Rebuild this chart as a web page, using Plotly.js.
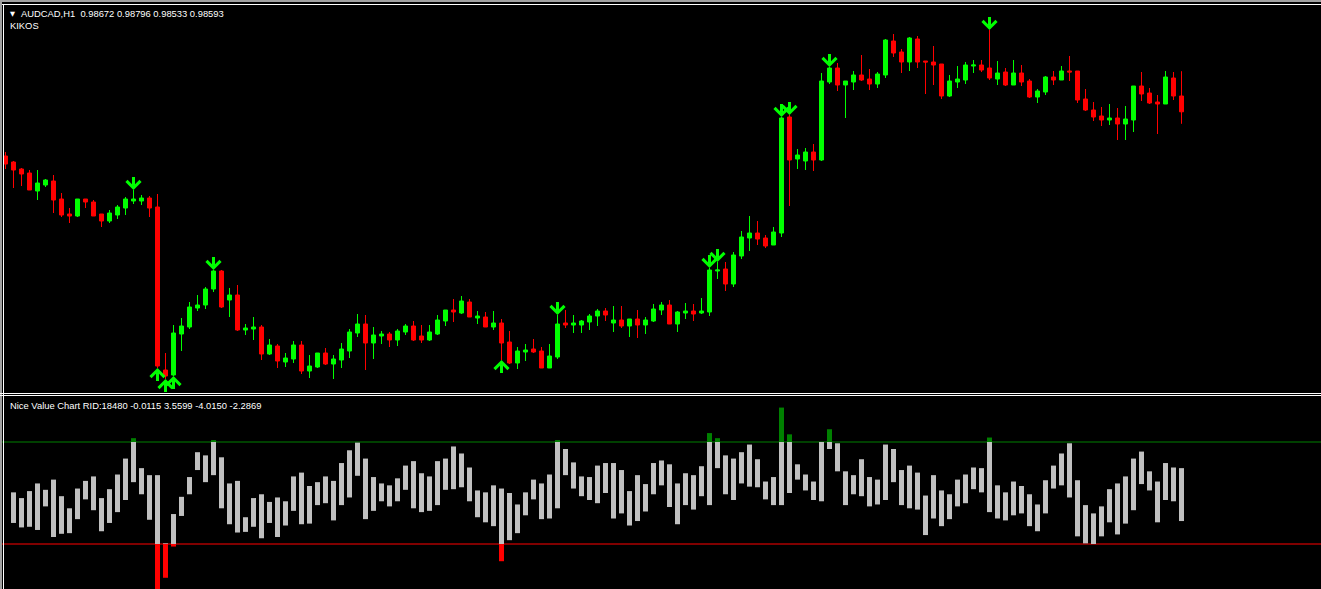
<!DOCTYPE html>
<html><head><meta charset="utf-8">
<script src="https://cdn.plot.ly/plotly-3.0.1.min.js"></script>
<style>html,body{margin:0;padding:0;background:#000;overflow:hidden;} #chart{width:1321px;height:589px;}</style>
</head><body><div id="chart"></div>
<script>
// ---------- data ----------
const symbolLabel = 'AUDCAD,H1';
const headerValues = ['0.98672', '0.98796', '0.98533', '0.98593'];
const templateLabel = 'KIKOS';
const indicatorLabel = 'Nice Value Chart RID:18480 -0.0115 3.5599 -4.0150 -2.2869';

const opens = [0.98372,0.98342,0.98307,0.98287,0.98197,0.98227,0.98247,0.98157,0.98082,0.98072,
0.98157,0.98142,0.98082,0.98047,0.98077,0.98112,0.98147,0.98147,0.98162,0.98117,
0.97302,0.97277,0.97482,0.97517,0.97612,0.97627,0.97707,0.97797,0.97652,0.97677,
0.97502,0.97507,0.97517,0.97382,0.97422,0.97342,0.97357,0.97427,0.97297,0.97317,
0.97387,0.97332,0.97352,0.97397,0.97487,0.97532,0.97437,0.97472,0.97482,0.97452,
0.97492,0.97522,0.97472,0.97452,0.97482,0.97547,0.97602,0.97587,0.97642,0.97562,
0.97567,0.97517,0.97537,0.97442,0.97337,0.97392,0.97407,0.97397,0.97312,0.97367,
0.97537,0.97527,0.97527,0.97542,0.97572,0.97597,0.97537,0.97552,0.97522,0.97557,
0.97527,0.97547,0.97602,0.97627,0.97532,0.97587,0.97597,0.97587,0.97592,0.97797,
0.97807,0.97732,0.97872,0.97962,0.97987,0.97962,0.97927,0.97987,0.98567,0.98357,
0.98347,0.98392,0.98352,0.98742,0.98812,0.98727,0.98742,0.98777,0.98757,0.98732,
0.98777,0.98947,0.98892,0.98842,0.98957,0.98847,0.98842,0.98832,0.98672,0.98742,
0.98752,0.98822,0.98827,0.98812,0.98757,0.98792,0.98727,0.98787,0.98747,0.98667,
0.98692,0.98767,0.98752,0.98797,0.98797,0.98657,0.98602,0.98572,0.98552,0.98562,
0.98532,0.98552,0.98722,0.98687,0.98642,0.98632,0.98762,0.98672];

const highs = [0.98392,0.98347,0.98312,0.98302,0.98302,0.98257,0.98277,0.98187,0.98112,0.98157,
0.98157,0.98152,0.98082,0.98102,0.98127,0.98167,0.98202,0.98177,0.98172,0.98182,
0.97387,0.97527,0.97562,0.97642,0.97677,0.97717,0.97802,0.97802,0.97712,0.97727,
0.97532,0.97567,0.97527,0.97457,0.97432,0.97387,0.97447,0.97447,0.97377,0.97387,
0.97412,0.97377,0.97437,0.97507,0.97582,0.97577,0.97517,0.97497,0.97492,0.97507,
0.97532,0.97547,0.97527,0.97527,0.97577,0.97602,0.97657,0.97672,0.97657,0.97597,
0.97592,0.97597,0.97557,0.97497,0.97417,0.97432,0.97457,0.97417,0.97432,0.97577,
0.97602,0.97577,0.97552,0.97582,0.97607,0.97612,0.97622,0.97622,0.97557,0.97602,
0.97567,0.97632,0.97642,0.97652,0.97597,0.97637,0.97632,0.97662,0.97812,0.97842,
0.97842,0.97892,0.97997,0.98072,0.98047,0.97977,0.98017,0.98567,0.98577,0.98407,
0.98412,0.98432,0.98787,0.98817,0.98837,0.98747,0.98797,0.98877,0.98807,0.98792,
0.98957,0.98982,0.98907,0.98967,0.98972,0.98847,0.98922,0.98832,0.98777,0.98822,
0.98842,0.98852,0.98852,0.99002,0.98847,0.98812,0.98852,0.98827,0.98757,0.98707,
0.98772,0.98797,0.98822,0.98872,0.98797,0.98707,0.98642,0.98617,0.98632,0.98612,
0.98622,0.98722,0.98792,0.98712,0.98677,0.98797,0.98792,0.98796];

const lows = [0.98307,0.98212,0.98222,0.98202,0.98152,0.98217,0.98087,0.98067,0.98037,0.98067,
0.98112,0.98072,0.98017,0.98037,0.98057,0.98077,0.98132,0.98127,0.98067,0.97312,
0.97257,0.97272,0.97397,0.97507,0.97597,0.97607,0.97692,0.97612,0.97567,0.97497,
0.97477,0.97452,0.97352,0.97377,0.97312,0.97317,0.97337,0.97282,0.97262,0.97312,
0.97327,0.97257,0.97312,0.97362,0.97467,0.97302,0.97357,0.97432,0.97417,0.97422,
0.97477,0.97447,0.97437,0.97447,0.97477,0.97522,0.97542,0.97582,0.97567,0.97532,
0.97517,0.97502,0.97352,0.97332,0.97307,0.97347,0.97387,0.97312,0.97312,0.97357,
0.97512,0.97487,0.97487,0.97502,0.97522,0.97547,0.97492,0.97512,0.97467,0.97462,
0.97482,0.97542,0.97577,0.97532,0.97492,0.97557,0.97547,0.97582,0.97572,0.97757,
0.97697,0.97717,0.97857,0.97897,0.97927,0.97912,0.97927,0.97967,0.98122,0.98307,
0.98302,0.98297,0.98347,0.98732,0.98697,0.98562,0.98702,0.98747,0.98702,0.98712,
0.98762,0.98867,0.98787,0.98797,0.98812,0.98682,0.98727,0.98657,0.98667,0.98712,
0.98732,0.98787,0.98792,0.98752,0.98727,0.98722,0.98727,0.98722,0.98662,0.98637,
0.98677,0.98727,0.98752,0.98747,0.98637,0.98597,0.98547,0.98522,0.98527,0.98452,
0.98452,0.98492,0.98647,0.98632,0.98482,0.98632,0.98652,0.98533];

const closes = [0.98332,0.98302,0.98282,0.98202,0.98237,0.98252,0.98152,0.98077,0.98072,0.98157,
0.98142,0.98072,0.98047,0.98087,0.98117,0.98157,0.98157,0.98162,0.98112,0.97322,
0.97272,0.97487,0.97522,0.97617,0.97627,0.97707,0.97797,0.97617,0.97677,0.97502,
0.97512,0.97517,0.97382,0.97427,0.97347,0.97362,0.97427,0.97297,0.97322,0.97387,
0.97332,0.97357,0.97407,0.97492,0.97532,0.97437,0.97477,0.97482,0.97452,0.97497,
0.97522,0.97452,0.97452,0.97492,0.97552,0.97602,0.97592,0.97647,0.97567,0.97572,
0.97517,0.97537,0.97437,0.97337,0.97397,0.97402,0.97392,0.97312,0.97372,0.97532,
0.97527,0.97537,0.97547,0.97572,0.97597,0.97577,0.97552,0.97522,0.97557,0.97527,
0.97552,0.97607,0.97627,0.97532,0.97592,0.97597,0.97582,0.97597,0.97802,0.97802,
0.97732,0.97877,0.97967,0.97987,0.97957,0.97922,0.97992,0.98562,0.98352,0.98377,
0.98392,0.98352,0.98747,0.98812,0.98727,0.98747,0.98777,0.98752,0.98732,0.98782,
0.98952,0.98887,0.98842,0.98962,0.98842,0.98842,0.98827,0.98672,0.98747,0.98757,
0.98827,0.98827,0.98802,0.98762,0.98787,0.98727,0.98787,0.98742,0.98667,0.98697,
0.98767,0.98752,0.98797,0.98792,0.98652,0.98602,0.98567,0.98552,0.98562,0.98532,
0.98557,0.98722,0.98682,0.98637,0.98632,0.98767,0.98672,0.98593];

// bar indexes carrying KIKOS signal arrows
const sellSignals = [16, 26, 69, 88, 89, 97, 98, 103, 123];
const buySignals = [19, 20, 21, 62];

// Value chart: top and bottom of each bar (bar 0 not drawn)
const vcHigh = [null,0.1,-0.8,0.3,1.5,0.5,2.1,-0.5,-2.4,0.7,1.9,
2.6,-0.8,0.6,2.9,5.4,8.6,3.9,2.8,2.8,-7.9,
-3.3,-0.6,2.5,6.4,5.9,8.3,5.6,1.5,1.9,-3.8,
-0.8,-0.2,-1.4,-0.7,-1.3,2.6,3.2,1.1,1.7,2.6,
1.9,4.7,6.7,7.9,5.4,2.5,1.5,1.2,2.3,4.3,
5.0,3.1,2.6,5.0,5.4,7.3,6.2,4.0,0.4,0.1,
1.2,0.7,0.0,-1.8,0.1,2.1,1.5,2.9,8.3,6.9,
4.8,2.6,2.5,4.3,4.7,4.7,3.6,0.3,2.8,1.4,
4.7,5.1,4.5,1.5,3.1,2.8,4.2,9.4,8.6,5.9,
5.4,6.4,7.6,5.3,1.8,2.5,13.4,9.2,4.5,2.9,
1.8,8.0,10.0,7.8,3.4,2.8,5.3,2.5,2.1,7.6,
6.9,3.6,4.3,3.2,-0.4,2.8,0.4,-0.2,2.1,2.9,
4.0,3.9,8.7,1.2,0.1,1.8,1.1,-0.2,-1.8,2.0,
4.3,6.2,7.8,2.0,-1.9,-3.2,-2.1,0.6,1.5,2.6,
5.4,6.5,3.4,1.8,4.7,4.0,3.9];

const vcLow = [null,-4.7,-5.4,-5.3,-5.8,-2.1,-6.9,-6.4,-6.3,-4.1,-1.0,
-2.7,-6.0,-4.7,-3.0,-1.1,1.7,-0.2,-4.2,-16.8,-13.3,
-8.4,-3.6,-0.2,3.6,1.7,2.8,-2.4,-4.9,-6.2,-6.1,
-5.3,-7.1,-4.7,-6.9,-5.1,-2.8,-4.9,-4.8,-1.9,-1.6,
-4.3,-1.9,-0.7,2.7,-4.1,-2.8,-1.3,-2.1,-1.3,0.5,
-2.4,-3.0,-2.8,-1.9,0.5,0.6,0.9,-1.3,-3.8,-4.6,
-5.2,-10.7,-7.4,-6.3,-3.5,-1.0,-4.1,-4.0,-2.4,2.8,
0.7,-0.5,-1.1,-1.6,0.0,-4.0,-3.2,-5.1,-4.4,-2.9,
-0.2,1.2,-2.2,-4.9,-1.9,-2.6,-0.5,-1.9,3.9,-0.2,
-1.1,1.5,1.0,0.9,-1.0,-1.9,-1.9,0.0,2.1,0.4,
-1.1,-1.3,6.9,3.4,-1.9,-0.2,-0.5,-2.1,-1.8,-1.1,
1.7,-1.9,-2.4,-2.6,-6.6,-4.0,-5.2,-4.1,-2.1,-1.6,
0.6,0.1,-3.0,-4.0,-4.3,-3.5,-3.2,-5.2,-6.0,-3.2,
0.7,1.2,-0.7,-6.8,-7.9,-8.0,-6.8,-4.6,-6.5,-4.8,
-2.7,1.4,0.4,-4.6,-1.1,-1.3,-4.4];

const upperLevel = 8;
const lowerLevel = -8;

// ---------- drawing ----------
const W = 1321, H = 589;
const py = p => 1 - p / H;             // pixel row -> paper y
const bars = opens.map((_, i) => i);

const FONT = 'Liberation Sans, Arial, sans-serif';

const candle = {
  type: 'candlestick', x: bars, open: opens, high: highs, low: lows, close: closes,
  xaxis: 'x', yaxis: 'y', whiskerwidth: 0, hoverinfo: 'none',
  increasing: {line: {color: '#00ff00', width: 1}, fillcolor: '#00ff00'},
  decreasing: {line: {color: '#ff0000', width: 1}, fillcolor: '#ff0000'}
};

const gBase = [], gLen = [], upBase = [], upLen = [], dnBase = [], dnLen = [];
vcHigh.forEach((h, i) => {
  const l = vcLow[i];
  if (h === null) { gBase.push(null); gLen.push(null); upBase.push(null); upLen.push(null); dnBase.push(null); dnLen.push(null); return; }
  const b = Math.max(l, lowerLevel), t = Math.min(h, upperLevel);
  gBase.push(b); gLen.push(t - b);
  if (h > upperLevel) { upBase.push(upperLevel); upLen.push(h - upperLevel); } else { upBase.push(null); upLen.push(null); }
  if (l < lowerLevel) { dnBase.push(l); dnLen.push(lowerLevel - l); } else { dnBase.push(null); dnLen.push(null); }
});
const barStyle = (base, len, color) => ({
  type: 'bar', x: bars, y: len, base: base, width: 0.625, xaxis: 'x2', yaxis: 'y2',
  marker: {color: color, line: {width: 0}}, hoverinfo: 'none'
});

const traces = [candle,
  barStyle(gBase, gLen, '#c0c0c0'),
  barStyle(upBase, upLen, '#008000'),
  barStyle(dnBase, dnLen, '#ff0000')];

const arrowStyle = {text: ' ', showarrow: true, arrowhead: 4, arrowsize: 0.9, arrowwidth: 3,
  arrowcolor: '#00ff00', ax: 0, xref: 'x', yref: 'y', standoff: 0, font: {size: 1}};
const annotations = [];
sellSignals.forEach(i => annotations.push(Object.assign({}, arrowStyle, {x: i, y: highs[i], ay: -15})));
buySignals.forEach(i => annotations.push(Object.assign({}, arrowStyle, {x: i, y: lows[i], ay: 15})));

const txt = (x, y, text, size, family) => ({xref: 'paper', yref: 'paper', x: x / W, y: py(y),
  xanchor: 'left', yanchor: 'middle', showarrow: false, text: text, borderpad: 0,
  font: {family: family || FONT, size: size, color: '#ffffff'}});
annotations.push(txt(8.5, 14, '\u25BC', 6.5, 'DejaVu Sans'));
annotations.push(txt(20, 13.7, symbolLabel + '\u00a0\u00a0' + headerValues.join(' '), 9.4));
annotations.push(txt(8.5, 25.7, templateLabel, 9.4));
annotations.push(txt(8.5, 405, indicatorLabel, 9.4));

const hline = (p, color) => ({type: 'line', xref: 'paper', yref: 'paper', x0: 0, x1: 1, y0: py(p + 0.5), y1: py(p + 0.5), line: {color: color, width: 1}});
const shapes = [
  {type: 'rect', xref: 'paper', yref: 'paper', x0: 0, x1: 1, y0: py(2), y1: 1, fillcolor: '#a0a0a0', line: {width: 0}},
  hline(4, '#ffffff'),
  {type: 'rect', xref: 'paper', yref: 'paper', x0: 0, x1: 2 / W, y0: 0, y1: 1, fillcolor: '#a0a0a0', line: {width: 0}},
  {type: 'line', xref: 'paper', yref: 'paper', x0: 3.5 / W, x1: 3.5 / W, y0: 0, y1: py(4), line: {color: '#ffffff', width: 1}},
  hline(393, '#ffffff'),
  hline(395, '#ffffff'),
  {type: 'line', xref: 'paper', yref: 'y2', x0: 0, x1: 1, y0: upperLevel, y1: upperLevel, line: {color: '#008000', width: 1}, layer: 'below'},
  {type: 'line', xref: 'paper', yref: 'y2', x0: 0, x1: 1, y0: lowerLevel, y1: lowerLevel, line: {color: '#ff0000', width: 1}, layer: 'below'}
];

const xr = [-0.6875, -0.6875 + W / 8];
const hidden = {showgrid: false, zeroline: false, showticklabels: false, ticks: '', showline: false, fixedrange: true};
const layout = {
  width: W, height: H, margin: {l: 0, r: 0, t: 0, b: 0, pad: 0},
  paper_bgcolor: '#000000', plot_bgcolor: '#000000', showlegend: false,
  hovermode: false, dragmode: false, boxgap: 0.5, boxgroupgap: 0, barmode: 'overlay',
  xaxis: Object.assign({}, hidden, {range: xr, domain: [0, 1], anchor: 'y', rangeslider: {visible: false}}),
  yaxis: Object.assign({}, hidden, {range: [0.97192, 0.99122], domain: [py(392), py(6)], anchor: 'x'}),
  xaxis2: Object.assign({}, hidden, {range: xr, domain: [0, 1], anchor: 'y2'}),
  yaxis2: Object.assign({}, hidden, {range: [-15.06, 15.06], domain: [0, py(397)], anchor: 'x2'}),
  annotations: annotations, shapes: shapes
};

Plotly.newPlot('chart', traces, layout, {displayModeBar: false, staticPlot: true});
</script>
</body></html>
